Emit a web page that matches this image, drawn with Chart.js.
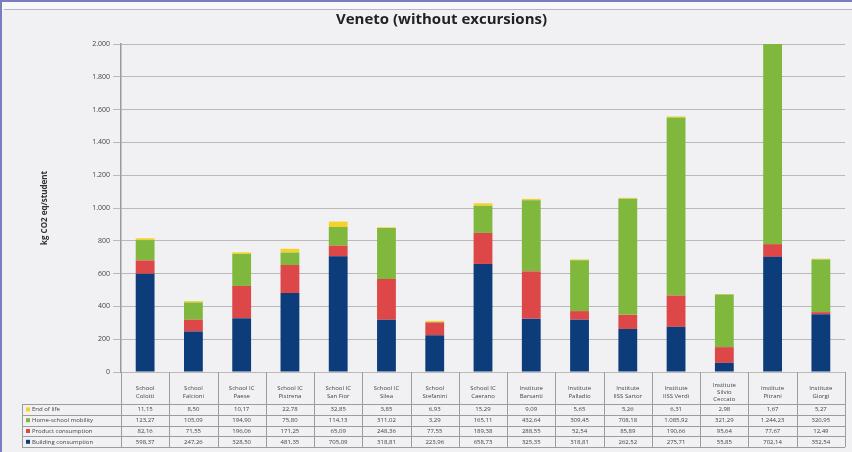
<!DOCTYPE html>
<html>
<head>
<meta charset="utf-8">
<script src="https://cdn.jsdelivr.net/npm/chart.js@4/dist/chart.umd.min.js"></script>
<style>
html, body { margin: 0; padding: 0; background: #f3f3f6; }
#wrap { position: relative; width: 852px; height: 452px; }
</style>
</head>
<body>
<div id="wrap"><canvas id="chart" width="852" height="452"></canvas></div>
<script>
// categories (two or three lines each, as in the table header)
const schools = [
    ['School', 'Colotti'],
    ['School', 'Falcioni'],
    ['School IC', 'Paese'],
    ['School IC', 'Pistrena'],
    ['School IC', 'San Fior'],
    ['School IC', 'Silea'],
    ['School', 'Stefanini'],
    ['School IC', 'Caerano'],
    ['Institute', 'Barsanti'],
    ['Institute', 'Palladio'],
    ['Institute', 'IISS Sartor'],
    ['Institute', 'IISS Verdi'],
    ['Institute', 'Silvio', 'Ceccato'],
    ['Institute', 'Pitrani'],
    ['Institute', 'Giorgi']
];

// kg CO2 eq / student
const building  = [598.37, 247.26, 328.50, 481.35, 705.09, 318.81, 223.96, 658.73, 325.35, 318.81, 262.52, 275.71, 55.85, 702.14, 352.54];
const product   = [82.16, 71.55, 196.06, 171.25, 65.09, 248.36, 77.55, 189.38, 288.55, 52.54, 85.89, 190.66, 95.64, 77.67, 12.49];
const mobility  = [123.27, 105.09, 194.90, 75.80, 114.13, 311.02, 3.29, 165.11, 432.64, 309.45, 708.18, 1085.92, 321.29, 1244.23, 320.95];
const endOfLife = [11.15, 8.50, 10.17, 22.78, 32.85, 3.85, 6.93, 15.29, 9.09, 5.65, 5.26, 6.31, 2.98, 1.67, 5.27];

const yTicks = [0, 200, 400, 600, 800, 1000, 1200, 1400, 1600, 1800, 2000];

// italian number format: 1.085,92
function fmt(v, d) {
    const parts = v.toFixed(d).split('.');
    parts[0] = parts[0].replace(/\B(?=(\d{3})+(?!\d))/g, '.');
    return parts.join(',');
}

Chart.defaults.font.family = "'Open Sans', 'DejaVu Sans', sans-serif";
Chart.defaults.color = '#444';

// background + frame
const framePlugin = {
    id: 'frame',
    beforeDraw(chart) {
        const c = chart.ctx;
        c.save();
        c.fillStyle = '#f1f1f4';
        c.fillRect(0, 0, chart.width, chart.height);
        c.fillStyle = '#f8f8fa';
        c.fillRect(0, 0, chart.width, 9);
        c.strokeStyle = '#7c7cc0';
        c.lineWidth = 2;
        c.beginPath();
        c.moveTo(0, 1); c.lineTo(chart.width, 1);
        c.moveTo(1, 0); c.lineTo(1, chart.height);
        c.stroke();
        c.strokeStyle = '#b4b4cc';
        c.lineWidth = 1;
        c.beginPath();
        c.moveTo(4, 9.5); c.lineTo(chart.width, 9.5);
        c.stroke();
        c.restore();
    }
};

// data table under the x axis
const tablePlugin = {
    id: 'dataTable',
    afterDraw(chart) {
        const c = chart.ctx;
        const x = chart.scales.x;
        const area = chart.chartArea;
        const half = (x.getPixelForValue(1) - x.getPixelForValue(0)) / 2;
        const left = 22, right = x.getPixelForValue(schools.length - 1) + half;
        const headBottom = 404, rowH = 10.8;
        const rows = chart.data.datasets.slice().reverse();
        const bottom = headBottom + rowH * rows.length;

        c.save();
        c.strokeStyle = '#9c9c9c';
        c.lineWidth = 1;
        c.beginPath();
        // column borders
        for (let i = 0; i <= schools.length; i++) {
            const px = Math.round(x.getPixelForValue(i) - half) + 0.5;
            c.moveTo(px, area.bottom);
            c.lineTo(px, bottom);
        }
        c.moveTo(left + 0.5, headBottom);
        c.lineTo(left + 0.5, bottom);
        // row borders
        for (let r = 0; r <= rows.length; r++) {
            const py = Math.round(headBottom + r * rowH) + 0.5;
            c.moveTo(left, py);
            c.lineTo(right, py);
        }
        c.stroke();

        c.font = "6px 'Open Sans', sans-serif";
        c.textBaseline = 'middle';
        rows.forEach((ds, r) => {
            const cy = headBottom + r * rowH + rowH / 2;
            c.fillStyle = ds.backgroundColor;
            c.fillRect(26, cy - 2, 4, 4);
            c.fillStyle = '#444';
            c.textAlign = 'left';
            c.fillText(ds.label, 32, cy);
            c.textAlign = 'center';
            ds.data.forEach((v, i) => {
                c.fillText(fmt(v, 2), x.getPixelForValue(i), cy);
            });
        });
        c.restore();
    }
};

const ctx = document.getElementById('chart').getContext('2d');

new Chart(ctx, {
    type: 'bar',
    data: {
        labels: schools,
        datasets: [
            { label: 'Building consumption', data: building, backgroundColor: '#0d3c7b' },
            { label: 'Product consumption', data: product, backgroundColor: '#dd4747' },
            { label: 'Home-school mobility', data: mobility, backgroundColor: '#80b83d' },
            { label: 'End of life', data: endOfLife, backgroundColor: '#f3d22b' }
        ]
    },
    options: {
        responsive: false,
        animation: false,
        layout: { padding: { left: 38, right: 7, top: 0, bottom: 0 } },
        datasets: {
            bar: { categoryPercentage: 1, barPercentage: 0.39 }
        },
        plugins: {
            legend: { display: false },
            tooltip: { enabled: false },
            title: {
                display: true,
                text: 'Veneto (without excursions)',
                font: { size: 15, weight: 'bold' },
                color: '#222',
                padding: { top: 11, bottom: 15 }
            }
        },
        scales: {
            x: {
                stacked: true,
                grid: { display: false },
                border: { display: false },
                ticks: {
                    font: { size: 6 },
                    color: '#444',
                    padding: 5,
                    maxRotation: 0,
                    autoSkip: false,
                    crossAlign: 'center'
                },
                afterFit(scale) { scale.height = 80; }
            },
            y: {
                stacked: true,
                min: 0,
                max: 2000,
                afterBuildTicks(scale) {
                    scale.ticks = yTicks.map(v => ({ value: v }));
                },
                ticks: {
                    font: { size: 7 },
                    color: '#444',
                    padding: 3,
                    callback: v => fmt(v, 0)
                },
                grid: { color: '#b9b9b9', tickLength: 8 },
                border: { color: '#9a9a9a', width: 1.5 },
                title: {
                    display: true,
                    text: 'kg CO2 eq/student',
                    font: { size: 8, weight: 'bold' },
                    color: '#333',
                    padding: { top: 2, bottom: 0 }
                },
                afterFit(scale) { scale.width = 83; }
            }
        }
    },
    plugins: [framePlugin, tablePlugin]
});
</script>
</body>
</html>
